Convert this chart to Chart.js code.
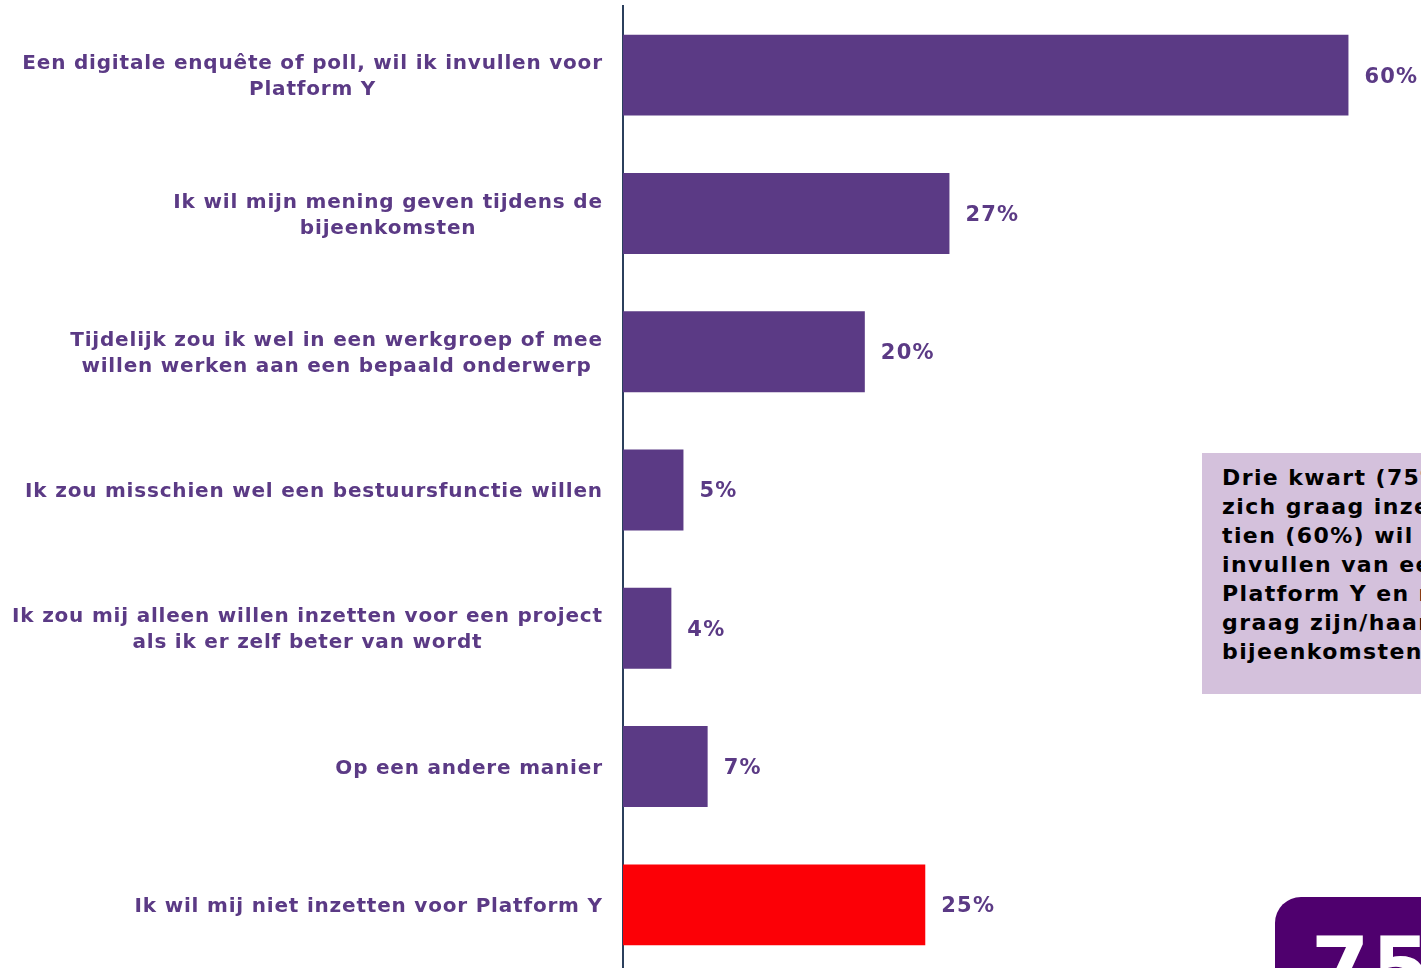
<!DOCTYPE html>
<html>
<head>
<meta charset="utf-8">
<script src="https://cdn.jsdelivr.net/npm/chart.js@4"></script>
<style>
  html, body { margin: 0; padding: 0; background: #fff; overflow: hidden; }
  #wrap { position: relative; width: 1421px; height: 968px; overflow: hidden; }
  #chartBox { position: absolute; left: 0; top: 0; width: 1421px; height: 974px; }
  .note {
    position: absolute; left: 1202px; top: 453px; width: 320px; height: 241px;
    background: #d4c1dc; box-sizing: border-box; padding: 10px 0 0 20px;
    font-family: "DejaVu Sans", Verdana, sans-serif; font-weight: bold;
    font-size: 22px; line-height: 29px; letter-spacing: 1.4px; color: #000; white-space: nowrap;
  }
  .badge {
    position: absolute; left: 1275px; top: 897px; width: 260px; height: 160px;
    background: #4f006e; border-radius: 26px;
    font-family: "DejaVu Sans", Verdana, sans-serif; font-weight: bold;
    font-size: 84px; color: #fff; padding: 22px 0 0 36px; box-sizing: border-box;
    white-space: nowrap; letter-spacing: 2px;
  }
</style>
</head>
<body>
<div id="wrap">
  <div id="chartBox"><canvas id="inzet"></canvas></div>
  <div class="note">Drie kwart (75%) wil<br>zich graag inzetten. Zes op<br>tien (60%) wil dit via het<br>invullen van een enquête voor<br>Platform Y en ruim een kwart<br>graag zijn/haar mening op de<br>bijeenkomsten.</div>
  <div class="badge">75%</div>
</div>
<script>
// answer categories (multi-line labels)
const categories = [
  ['Een digitale enquête of poll, wil ik invullen voor', 'Platform Y'],
  ['Ik wil mijn mening geven tijdens de', 'bijeenkomsten'],
  ['Tijdelijk zou ik wel in een werkgroep of mee', 'willen werken aan een bepaald onderwerp'],
  ['Ik zou misschien wel een bestuursfunctie willen'],
  ['Ik zou mij alleen willen inzetten voor een project', 'als ik er zelf beter van wordt'],
  ['Op een andere manier'],
  ['Ik wil mij niet inzetten voor Platform Y']
];
const percentages = [60, 27, 20, 5, 4, 7, 25];
const barColors = ['#5b3a85', '#5b3a85', '#5b3a85', '#5b3a85', '#5b3a85', '#5b3a85', '#fc0006'];

const FONT = '"DejaVu Sans", Verdana, sans-serif';
const TEXT_COLOR = '#5b3a85';

// category labels: block right aligned against the axis, lines centred in the block
const labelPlugin = {
  id: 'labelPlugin',
  afterDraw(chart) {
    const ctx = chart.ctx;
    const yScale = chart.scales.y;
    const right = chart.chartArea.left - 21;
    const spacing = 0.8;
    ctx.save();
    ctx.font = 'bold 20px ' + FONT;
    ctx.letterSpacing = spacing + 'px';
    ctx.fillStyle = TEXT_COLOR;
    ctx.textAlign = 'left';
    ctx.textBaseline = 'middle';
    categories.forEach((lines, i) => {
      const y = yScale.getPixelForValue(i) + 2;
      const widths = lines.map(l => ctx.measureText(l).width - spacing);
      const w = Math.max(...widths);
      const cx = right - w / 2;
      const lh = 26;
      lines.forEach((l, j) => {
        ctx.fillText(l, cx - widths[j] / 2, y + (j - (lines.length - 1) / 2) * lh);
      });
    });
    ctx.restore();
  }
};

// percentage next to each bar
const valuePlugin = {
  id: 'valuePlugin',
  afterDatasetsDraw(chart) {
    const ctx = chart.ctx;
    const meta = chart.getDatasetMeta(0);
    ctx.save();
    ctx.font = 'bold 21px ' + FONT;
    ctx.letterSpacing = '1.2px';
    ctx.fillStyle = TEXT_COLOR;
    ctx.textAlign = 'left';
    ctx.textBaseline = 'middle';
    meta.data.forEach((bar, i) => {
      ctx.fillText(percentages[i] + '%', bar.x + 16, bar.y + 2);
    });
    ctx.restore();
  }
};

const ctx = document.getElementById('inzet').getContext('2d');
new Chart(ctx, {
  type: 'bar',
  data: {
    labels: categories.map(c => c.join(' ')),
    datasets: [{
      data: percentages,
      backgroundColor: barColors,
      borderWidth: 0,
      barPercentage: 1,
      categoryPercentage: 0.585
    }]
  },
  options: {
    indexAxis: 'y',
    responsive: true,
    maintainAspectRatio: false,
    animation: false,
    layout: { padding: { top: 6, right: 0, bottom: 0, left: 0 } },
    plugins: { legend: { display: false }, tooltip: { enabled: false } },
    scales: {
      x: {
        display: false,
        min: 0,
        max: 66,
        grid: { display: false }
      },
      y: {
        grid: { display: false, drawTicks: false },
        border: { display: true, color: '#2b3f5c', width: 2 },
        ticks: { display: false },
        afterFit(scale) { scale.width = 623; }
      }
    }
  },
  plugins: [labelPlugin, valuePlugin]
});
</script>
</body>
</html>
